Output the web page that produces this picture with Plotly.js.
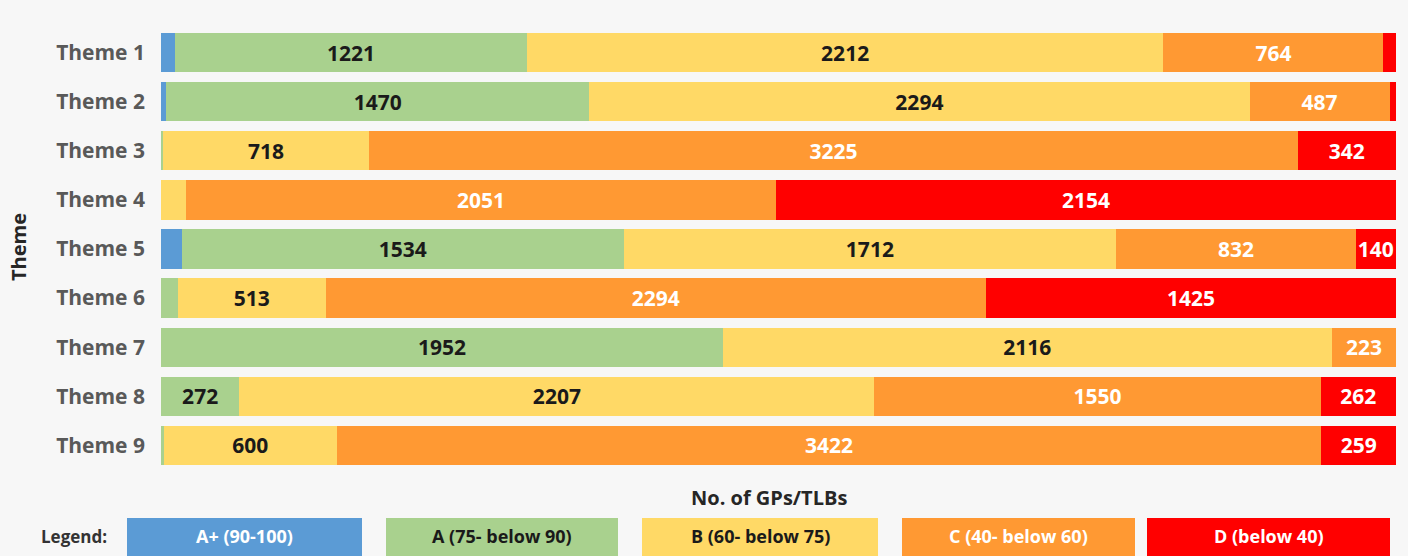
<!DOCTYPE html>
<html>
<head>
<meta charset="utf-8">
<script src="https://cdn.plot.ly/plotly-3.0.1.min.js"></script>
<style>html,body{margin:0;padding:0;background:#f7f7f7;}#chart{width:1408px;height:556px;}</style>
</head>
<body>
<div id="chart"></div>
<script>
const themes = ['Theme 1','Theme 2','Theme 3','Theme 4','Theme 5','Theme 6','Theme 7','Theme 8','Theme 9'];
const gradeAPlus = [50, 18, 0, 0, 73, 0, 0, 0, 0];
const gradeA     = [1221, 1470, 6, 0, 1534, 59, 1952, 272, 10];
const gradeB     = [2212, 2294, 718, 86, 1712, 513, 2116, 2207, 600];
const gradeC     = [764, 487, 3225, 2051, 832, 2294, 223, 1550, 3422];
const gradeD     = [44, 22, 342, 2154, 140, 1425, 0, 262, 259];
const legendLabels = ['A+ (90-100)', 'A (75- below 90)', 'B (60- below 75)', 'C (40- below 60)', 'D (below 40)'];
const colors = ['#5b9bd5', '#a9d18e', '#ffd966', '#ff9933', '#ff0000'];
const textColors = ['#ffffff', '#1a1a1a', '#1a1a1a', '#ffffff', '#ffffff'];
const series = [gradeAPlus, gradeA, gradeB, gradeC, gradeD];

const W = 1408, H = 556;
const L = 161, R = 12, T = 28, B = 86;
const pw = W - L - R, ph = H - T - B;
const px2x = px => (px - L) / pw;
const py2y = py => (H - B - py) / ph;

const font = 'Open Sans, Noto Sans, sans-serif';
const traces = series.map((vals, i) => ({
  type: 'bar', orientation: 'h', y: themes, x: vals,
  name: legendLabels[i],
  marker: {color: colors[i], line: {width: 0}},
  text: vals.map(v => v >= 100 ? String(v) : ''),
  textposition: 'inside', insidetextanchor: 'middle', textangle: 0,
  constraintext: 'none', cliponaxis: false,
  textfont: {family: font, size: 21, color: textColors[i], weight: 'bold'},
  hoverinfo: 'skip', showlegend: false
}));

const total = Math.max(...themes.map((_, k) => series.reduce((s, arr) => s + arr[k], 0)));

const shapes = [];
const annotations = [];
const boxes = [[127, 362], [386, 618], [642, 878], [902, 1135], [1147, 1390]];
boxes.forEach((b, i) => {
  shapes.push({type: 'rect', xref: 'paper', yref: 'paper', x0: px2x(b[0]), x1: px2x(b[1]), y0: py2y(556), y1: py2y(518),
    fillcolor: colors[i], line: {width: 0}, layer: 'above'});
  annotations.push({xref: 'paper', yref: 'paper', x: px2x((b[0] + b[1]) / 2), y: py2y(536), text: legendLabels[i],
    showarrow: false, xanchor: 'center', yanchor: 'middle',
    font: {family: font, size: 18, color: textColors[i], weight: 'bold'}});
});
annotations.push({xref: 'paper', yref: 'paper', x: px2x(74), y: py2y(536), text: 'Legend:', showarrow: false,
  xanchor: 'center', yanchor: 'middle', font: {family: font, size: 17, color: '#333333', weight: 'bold'}});
annotations.push({xref: 'paper', yref: 'paper', x: px2x(769), y: py2y(497), text: 'No. of GPs/TLBs', showarrow: false,
  xanchor: 'center', yanchor: 'middle', font: {family: font, size: 20, color: '#262626', weight: 'bold'}});
annotations.push({xref: 'paper', yref: 'paper', x: px2x(18), y: py2y(247), text: 'Theme', showarrow: false, textangle: -90,
  xanchor: 'center', yanchor: 'middle', font: {family: font, size: 20, color: '#262626', weight: 'bold'}});

const layout = {
  width: W, height: H,
  margin: {l: L, r: R, t: T, b: B, pad: 0},
  paper_bgcolor: '#f7f7f7', plot_bgcolor: '#f7f7f7',
  barmode: 'stack', bargap: 0.2,
  showlegend: false,
  xaxis: {range: [0, total], showticklabels: false, showgrid: false, zeroline: false, showline: false, ticks: '', fixedrange: true},
  yaxis: {autorange: false, range: [8.5, -0.5], showgrid: false, zeroline: false, showline: false, ticks: '',
    ticklabelstandoff: 15,
    tickfont: {family: font, size: 21, color: '#595959', weight: 'bold'}},
  shapes: shapes, annotations: annotations
};

Plotly.newPlot('chart', traces, layout, {displayModeBar: false, staticPlot: true});
</script>
</body>
</html>
